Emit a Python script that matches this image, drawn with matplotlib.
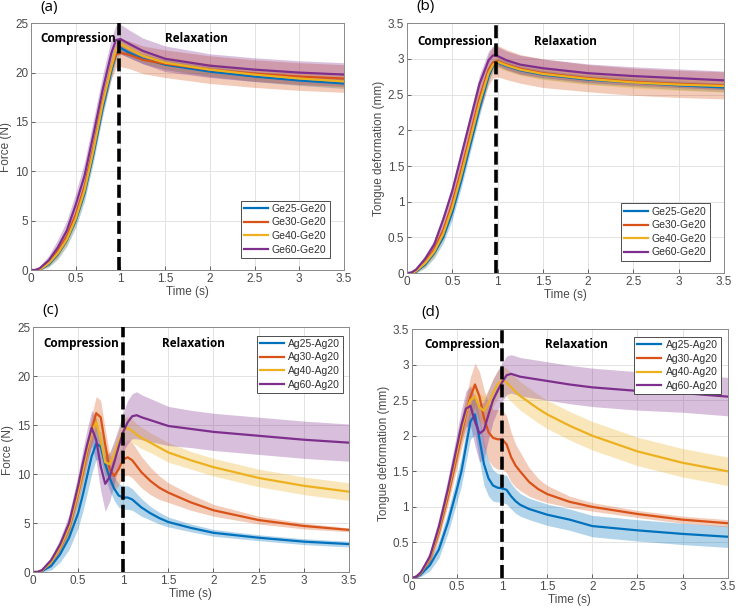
import matplotlib.pyplot as plt
import numpy as np

# time grids (s)
t_ge = [0, 0.05, 0.1, 0.2, 0.3, 0.4, 0.5, 0.6, 0.7, 0.8, 0.9, 0.95, 1.0, 1.1, 1.25, 1.5, 2.0, 2.5, 3.0, 3.5]
t_ag = [0, 0.05, 0.1, 0.2, 0.3, 0.4, 0.5, 0.55, 0.6, 0.65, 0.7, 0.75, 0.8, 0.85, 0.9, 0.95, 1.0,
        1.05, 1.1, 1.15, 1.2, 1.3, 1.4, 1.5, 1.75, 2.0, 2.5, 3.0, 3.5]

ge_labels = ["Ge25-Ge20", "Ge30-Ge20", "Ge40-Ge20", "Ge60-Ge20"]
ag_labels = ["Ag25-Ag20", "Ag30-Ag20", "Ag40-Ag20", "Ag60-Ag20"]

# (a) force, gelatin
ge_force = [
    [0, 0, 0.05, 0.6, 1.6, 3.0, 5.0, 7.8, 11.8, 16.3, 20.2, 21.8, 22.5, 22.0, 21.4, 20.8, 20.1, 19.6, 19.2, 18.9],
    [0, 0, 0.1, 0.8, 1.9, 3.4, 5.6, 8.5, 12.5, 17.0, 20.6, 21.8, 22.0, 21.8, 21.3, 20.9, 20.3, 19.9, 19.6, 19.4],
    [0, 0, 0.05, 0.7, 1.7, 3.1, 5.2, 8.1, 12.2, 16.8, 20.6, 22.3, 22.9, 22.4, 21.7, 21.0, 20.3, 19.8, 19.4, 19.1],
    [0, 0, 0.2, 1.0, 2.3, 4.0, 6.6, 9.6, 13.8, 18.2, 22.0, 23.3, 23.4, 22.9, 22.2, 21.4, 20.7, 20.3, 20.0, 19.8],
]
ge_force_sd = [
    [0, 0, 0.1, 0.3, 0.5, 0.6, 0.7, 0.8, 0.8, 0.8, 0.7, 0.6, 0.6, 0.5, 0.5, 0.5, 0.5, 0.5, 0.5, 0.5],
    [0, 0, 0.1, 0.3, 0.5, 0.6, 0.7, 0.8, 0.9, 1.0, 1.2, 1.3, 1.4, 1.4, 1.4, 1.4, 1.4, 1.4, 1.4, 1.4],
    [0, 0, 0.1, 0.3, 0.5, 0.6, 0.7, 0.8, 0.8, 0.8, 0.8, 0.7, 0.7, 0.6, 0.6, 0.6, 0.6, 0.6, 0.6, 0.6],
    [0, 0, 0.2, 0.5, 0.8, 1.0, 1.2, 1.4, 1.5, 1.5, 1.5, 1.5, 1.5, 1.4, 1.3, 1.3, 1.2, 1.2, 1.2, 1.2],
]

# (b) deformation, gelatin
ge_def = [
    [0, 0, 0.02, 0.12, 0.28, 0.5, 0.85, 1.3, 1.8, 2.3, 2.75, 2.9, 2.95, 2.9, 2.84, 2.78, 2.71, 2.67, 2.63, 2.6],
    [0, 0, 0.03, 0.15, 0.33, 0.6, 0.98, 1.45, 1.95, 2.45, 2.85, 2.95, 2.97, 2.92, 2.86, 2.8, 2.73, 2.68, 2.65, 2.63],
    [0, 0, 0.03, 0.14, 0.3, 0.55, 0.92, 1.38, 1.88, 2.38, 2.8, 2.92, 2.96, 2.91, 2.85, 2.79, 2.72, 2.67, 2.64, 2.62],
    [0, 0.01, 0.05, 0.2, 0.4, 0.75, 1.15, 1.65, 2.15, 2.65, 2.98, 3.05, 3.04, 2.98, 2.92, 2.87, 2.8, 2.76, 2.73, 2.7],
]
ge_def_sd = [
    [0, 0, 0.02, 0.05, 0.07, 0.08, 0.1, 0.1, 0.1, 0.1, 0.08, 0.07, 0.06, 0.06, 0.06, 0.06, 0.06, 0.06, 0.06, 0.06],
    [0, 0, 0.02, 0.05, 0.08, 0.1, 0.12, 0.15, 0.17, 0.2, 0.22, 0.22, 0.22, 0.21, 0.2, 0.2, 0.19, 0.19, 0.19, 0.19],
    [0, 0, 0.02, 0.05, 0.07, 0.08, 0.1, 0.1, 0.1, 0.1, 0.09, 0.08, 0.08, 0.08, 0.08, 0.08, 0.08, 0.08, 0.08, 0.08],
    [0, 0, 0.02, 0.05, 0.07, 0.08, 0.09, 0.1, 0.1, 0.12, 0.13, 0.13, 0.13, 0.13, 0.13, 0.13, 0.13, 0.13, 0.13, 0.13],
]

# (c) force, agar
ag_force = [
    [0, 0, 0.1, 0.6, 1.8, 3.5, 6.0, 7.8, 9.8, 11.8, 13.1, 12.8, 11.0, 9.6, 8.5, 7.8, 7.6,
     7.6, 7.4, 7.0, 6.6, 6.0, 5.5, 5.1, 4.5, 4.0, 3.5, 3.1, 2.85],
    [0, 0, 0.15, 1.0, 2.5, 4.5, 8.0, 10.0, 12.2, 14.5, 16.2, 15.8, 13.0, 10.5, 9.8, 10.5, 11.5,
     11.7, 11.4, 10.8, 10.2, 9.3, 8.6, 8.1, 7.1, 6.3, 5.3, 4.7, 4.3],
    [0, 0, 0.15, 1.0, 2.5, 4.6, 8.2, 10.3, 12.5, 14.3, 15.3, 13.5, 11.2, 11.0, 12.0, 13.3, 14.4,
     14.7, 14.4, 14.0, 13.7, 13.2, 12.7, 12.2, 11.4, 10.7, 9.6, 8.8, 8.2],
    [0, 0, 0.2, 1.2, 2.8, 5.0, 8.8, 11.0, 13.0, 14.7, 13.5, 10.8, 9.0, 9.7, 11.2, 12.8, 14.3,
     15.3, 15.9, 16.0, 15.8, 15.5, 15.2, 14.9, 14.6, 14.3, 13.9, 13.5, 13.2],
]
ag_force_sd = [
    [0, 0, 0.1, 0.4, 0.8, 1.2, 1.5, 1.7, 1.8, 1.8, 1.6, 1.5, 1.4, 1.3, 1.2, 1.2, 1.2,
     1.2, 1.1, 1.0, 0.9, 0.7, 0.6, 0.5, 0.4, 0.35, 0.3, 0.3, 0.3],
    [0, 0, 0.1, 0.3, 0.5, 0.7, 1.0, 1.1, 1.3, 1.5, 1.7, 1.7, 1.6, 1.5, 1.5, 1.6, 1.7,
     1.8, 1.8, 1.7, 1.6, 1.4, 1.2, 1.0, 0.8, 0.6, 0.4, 0.3, 0.2],
    [0, 0, 0.1, 0.3, 0.5, 0.7, 0.9, 1.0, 1.1, 1.2, 1.3, 1.3, 1.3, 1.2, 1.2, 1.2, 1.2,
     1.2, 1.2, 1.1, 1.1, 1.0, 1.0, 1.0, 0.9, 0.9, 0.9, 0.9, 0.9],
    [0, 0, 0.1, 0.3, 0.6, 0.9, 1.2, 1.4, 1.6, 1.8, 2.2, 2.5, 2.8, 2.5, 2.2, 2.0, 2.0,
     2.2, 2.3, 2.4, 2.3, 2.2, 2.1, 2.0, 1.9, 1.9, 1.9, 1.9, 1.9],
]

# (d) deformation, agar
ag_def = [
    [0, 0.01, 0.05, 0.18, 0.4, 0.78, 1.25, 1.5, 1.85, 2.2, 2.3, 1.95, 1.6, 1.4, 1.3, 1.27, 1.26,
     1.24, 1.15, 1.08, 1.03, 0.97, 0.93, 0.89, 0.82, 0.73, 0.67, 0.62, 0.58],
    [0, 0.02, 0.07, 0.27, 0.65, 1.15, 1.72, 2.02, 2.3, 2.55, 2.72, 2.55, 2.25, 2.05, 1.97, 1.95, 1.95,
     1.88, 1.7, 1.58, 1.5, 1.35, 1.25, 1.18, 1.07, 1.0, 0.9, 0.82, 0.77],
    [0, 0.02, 0.07, 0.28, 0.68, 1.2, 1.78, 2.08, 2.33, 2.5, 2.55, 2.4, 2.35, 2.45, 2.6, 2.72, 2.78,
     2.75, 2.68, 2.62, 2.56, 2.47, 2.38, 2.3, 2.14, 2.0, 1.78, 1.62, 1.5],
    [0, 0.02, 0.08, 0.3, 0.72, 1.25, 1.85, 2.15, 2.38, 2.42, 2.2, 2.03, 2.08, 2.3, 2.5, 2.63, 2.75,
     2.85, 2.87, 2.85, 2.83, 2.81, 2.79, 2.77, 2.72, 2.68, 2.63, 2.6, 2.55],
]
ag_def_sd = [
    [0, 0.01, 0.03, 0.08, 0.12, 0.15, 0.18, 0.2, 0.22, 0.25, 0.28, 0.3, 0.3, 0.25, 0.22, 0.2, 0.2,
     0.2, 0.18, 0.17, 0.16, 0.15, 0.15, 0.15, 0.15, 0.15, 0.15, 0.15, 0.15],
    [0, 0.01, 0.03, 0.07, 0.1, 0.13, 0.17, 0.2, 0.24, 0.28, 0.3, 0.35, 0.4, 0.4, 0.4, 0.42, 0.42,
     0.4, 0.35, 0.3, 0.27, 0.2, 0.15, 0.12, 0.08, 0.06, 0.05, 0.05, 0.05],
    [0, 0.01, 0.03, 0.07, 0.1, 0.13, 0.16, 0.18, 0.2, 0.2, 0.2, 0.2, 0.2, 0.2, 0.2, 0.2, 0.2,
     0.2, 0.2, 0.2, 0.2, 0.2, 0.2, 0.2, 0.2, 0.2, 0.2, 0.2, 0.2],
    [0, 0.01, 0.03, 0.08, 0.12, 0.15, 0.2, 0.22, 0.25, 0.28, 0.35, 0.4, 0.4, 0.35, 0.3, 0.28, 0.27,
     0.27, 0.27, 0.27, 0.27, 0.27, 0.27, 0.27, 0.27, 0.27, 0.27, 0.27, 0.27],
]

colors = ["#0072BD", "#D95319", "#EDB120", "#7E2F8E"]

plt.rcParams['font.family'] = ['Liberation Sans', 'DejaVu Sans']

fig = plt.figure(figsize=(7.38, 6.11), dpi=100)

panels = [
    # tag, rect, t, data, sd, labels, ylim, yticks, ylabel, dashed x (top,bottom), text y, text x, legend
    ("(a)", [0.042, 0.558, 0.424, 0.404], t_ge, ge_force, ge_force_sd, ge_labels, 25, np.arange(0, 26, 5),
     "Force (N)", (0.983, 0.983), 23.5, (0.1, 1.5), ("lower right", (0.955, 0.05))),
    ("(b)", [0.5515, 0.553, 0.4295, 0.409], t_ge, ge_def, ge_def_sd, ge_labels, 3.5, np.arange(0, 3.6, 0.5),
     "Tongue deformation (mm)", (0.984, 0.984), 3.25, (0.12, 1.4), ("lower right", (0.955, 0.05))),
    ("(c)", [0.0447, 0.0638, 0.428, 0.401], t_ag, ag_force, ag_force_sd, ag_labels, 25, np.arange(0, 26, 5),
     "Force (N)", (0.997, 0.997), 23.3, (0.12, 1.43), ("upper right", (0.982, 0.965))),
    ("(d)", [0.558, 0.054, 0.428, 0.4075], t_ag, ag_def, ag_def_sd, ag_labels, 3.5, np.arange(0, 3.6, 0.5),
     "Tongue deformation (mm)", (0.997, 0.997), 3.28, (0.14, 1.48), ("upper right", (0.978, 0.968))),
]

for tag, rect, t, data, sd, labels, ymax, yticks, ylabel, xd, ty, tx, leg in panels:
    ax = fig.add_axes(rect)
    t = np.array(t)
    for y, s, c in zip(data, sd, colors):
        y = np.array(y)
        s = np.array(s)
        ax.fill_between(t, y - s, y + s, color=c, alpha=0.3, lw=0)
    lines = []
    for y, c, lab in zip(data, colors, labels):
        ln, = ax.plot(t, y, color=c, lw=1.6, label=lab)
        lines.append(ln)
    ax.plot(xd, [0, ymax], color='black', lw=2.6, dashes=(3.6, 1.4), zorder=5)
    ax.set_xlim(0, 3.5)
    ax.set_ylim(0, ymax)
    ax.set_xticks(np.arange(0, 3.6, 0.5))
    ax.set_xticklabels(["0", "0.5", "1", "1.5", "2", "2.5", "3", "3.5"])
    ax.set_yticks(yticks)
    ax.set_yticklabels([("%g" % v) for v in yticks])
    ax.grid(True, color='#e3e3e3', lw=0.7)
    ax.set_axisbelow(True)
    ax.tick_params(direction='in', length=3, width=0.6, labelsize=8.5, colors='#4a4a4a', pad=2)
    for sp in ax.spines.values():
        sp.set_color('#8a8a8a')
        sp.set_linewidth(0.7)
    ax.set_xlabel("Time (s)", fontsize=8.5, color='#4a4a4a', labelpad=1)
    ax.set_ylabel(ylabel, fontsize=8.5, color='#4a4a4a', labelpad=2)
    ax.text(tx[0], ty, "Compression", fontsize=8.5, fontweight='bold', family='Open Sans', va='center')
    ax.text(tx[1], ty, "Relaxation", fontsize=8.5, fontweight='bold', family='Open Sans', va='center')
    ax.text(0.03, 1.035, tag, transform=ax.transAxes, fontsize=11, family='Open Sans', va='bottom')
    lg = ax.legend(handles=lines, loc=leg[0], bbox_to_anchor=leg[1], fontsize=7.5, fancybox=False,
                   framealpha=1, edgecolor='#4d4d4d', handlelength=2.3, borderpad=0.3,
                   labelspacing=0.35, handletextpad=0.4, borderaxespad=0)
    lg.get_frame().set_linewidth(0.7)
    for txt in lg.get_texts():
        txt.set_color('#303030')

fig.savefig("out.png", dpi=100)
